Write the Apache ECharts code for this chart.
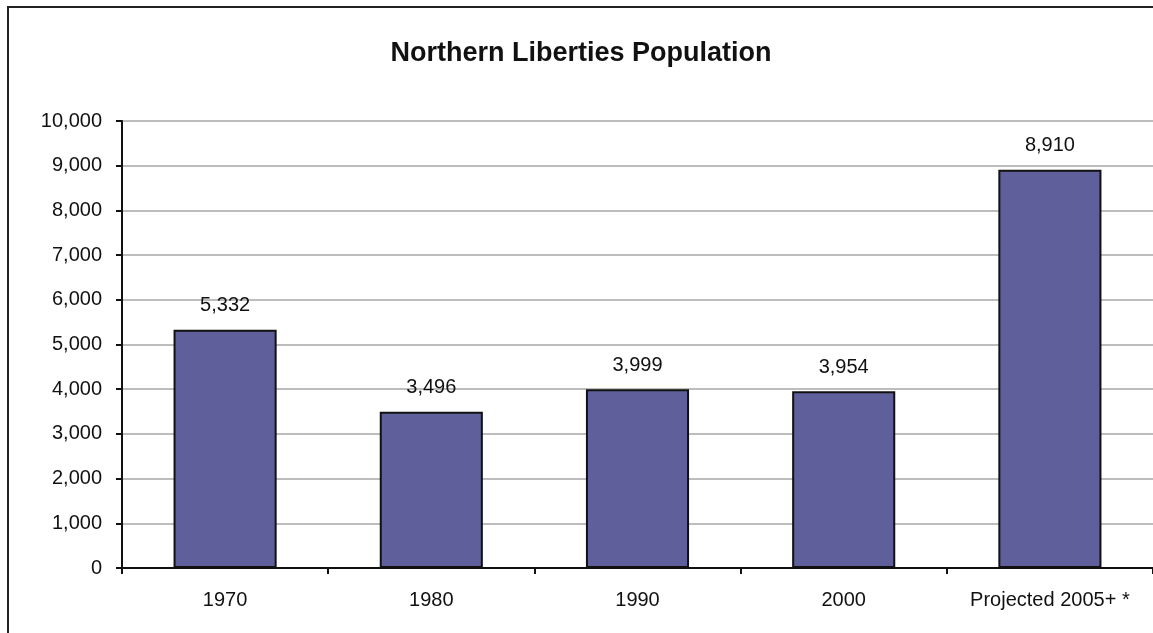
<!DOCTYPE html>
<html>
<head>
<meta charset="utf-8">
<title>Northern Liberties Population</title>
<script src="https://cdn.jsdelivr.net/npm/echarts@6/dist/echarts.min.js"></script>
<style>
  html, body { margin: 0; padding: 0; background: #fff; }
  #chart { width: 1153px; height: 633px; }
</style>
</head>
<body>
<div id="chart"></div>
<script>
// data
var years = ['1970', '1980', '1990', '2000', 'Projected 2005+ *'];
var population = [5332, 3496, 3999, 3954, 8910];

var myChart = echarts.init(document.getElementById('chart'));

var option = {
  animation: false,
  textStyle: { fontFamily: 'Liberation Sans, Arial, sans-serif' },
  title: {
    text: 'Northern Liberties Population',
    left: 576,
    textAlign: 'center',
    top: 35,
    textStyle: { fontSize: 27, fontWeight: 'bold', color: '#111' }
  },
  // outer frame of the original picture
  graphic: [{
    type: 'rect',
    shape: { x: 8, y: 7, width: 1160, height: 640 },
    style: { fill: 'none', stroke: '#222', lineWidth: 2 },
    silent: true
  }],
  grid: { left: 122, right: -2, top: 121, bottom: 65 },
  xAxis: {
    type: 'category',
    data: years,
    axisLine: { lineStyle: { color: '#111', width: 2 } },
    axisTick: { show: true, interval: 0, length: 6, lineStyle: { color: '#111', width: 2 } },
    axisLabel: { color: '#111', fontSize: 20, margin: 22, interval: 0, hideOverlap: false }
  },
  yAxis: {
    type: 'value',
    min: 0,
    max: 10000,
    interval: 1000,
    axisLine: { show: true, lineStyle: { color: '#111', width: 2 } },
    axisTick: { show: true, length: 6, lineStyle: { color: '#111', width: 2 } },
    axisLabel: {
      color: '#111',
      fontSize: 20,
      margin: 20,
      formatter: function (v) { return v.toLocaleString('en-US'); }
    },
    splitLine: { lineStyle: { color: '#bdbdbd', width: 2 } }
  },
  series: [{
    type: 'bar',
    data: population,
    barWidth: '50%',
    itemStyle: { color: '#5f5f9b', borderColor: '#111', borderWidth: 2 },
    label: {
      show: true,
      position: 'top',
      distance: 14,
      color: '#111',
      fontSize: 20,
      formatter: function (p) { return p.value.toLocaleString('en-US'); }
    }
  }]
};

myChart.setOption(option);
</script>
</body>
</html>
